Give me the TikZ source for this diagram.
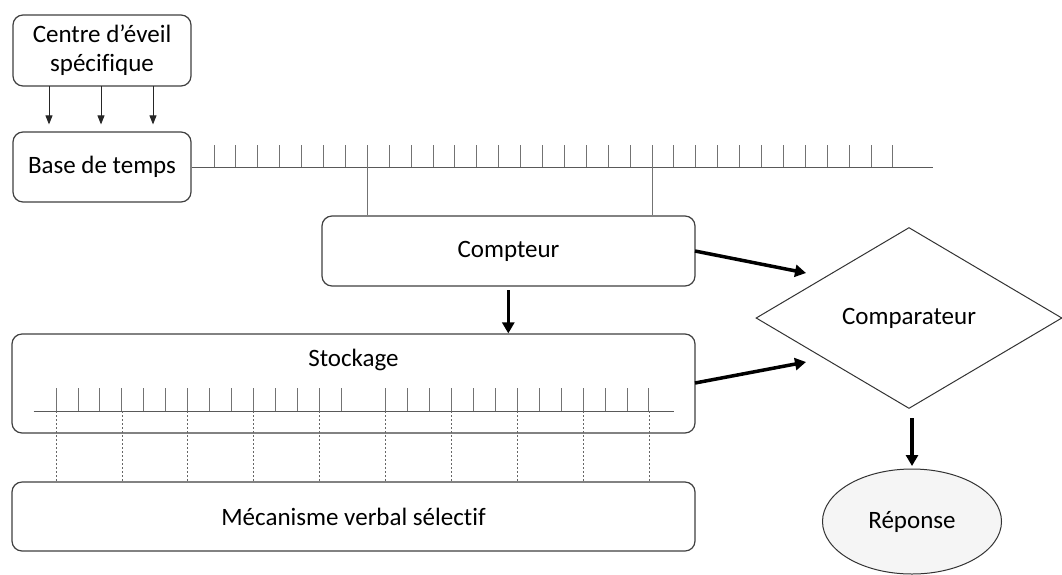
\documentclass[tikz,border=0pt]{standalone}
\usepackage{fontspec}
\setmainfont{Carlito}[Ligatures={NoCommon}]
\usetikzlibrary{shapes.geometric,arrows.meta}
\begin{document}
\begin{tikzpicture}[x=1pt,y=-1pt,
  every node/.style={font=\fontsize{25}{29}\selectfont, text=black},
  rbox/.style={draw=black!75, line width=1.2pt, rounded corners=10pt, inner sep=0pt},
  tick/.style={draw=black!55, line width=0.9pt},
  axis/.style={draw=black!65, line width=1pt},
  thinarrow/.style={draw=black!85, line width=0.9pt, -{Triangle[width=7pt,length=9pt]}},
  bigarrow/.style={draw=black, line width=3.5pt, -{Triangle[width=12pt,length=11pt]}},
  dashline/.style={draw=black!60, line width=0.6pt, dash pattern=on 2pt off 2pt}]
\useasboundingbox (0,0) rectangle (1062,574);
\fill[white] (0,0) rectangle (1062,574);

% boxes
\node[rbox, minimum width=178pt, minimum height=71pt, align=center] (centre) at (102,50.5) {Centre d’éveil\\spécifique};
\node[rbox, minimum width=178pt, minimum height=70pt] (base) at (102,167) {Base de temps};
\node[rbox, minimum width=373pt, minimum height=70pt] (compteur) at (508.5,251) {Compteur};
\node[rbox, minimum width=683pt, minimum height=99pt] (stockage) at (353.5,383.5) {};
\node (stocktxt) at (353.5,360) {Stockage};
\node[rbox, minimum width=683pt, minimum height=69pt] (meca) at (353.5,516.5) {Mécanisme verbal sélectif};
\node[diamond, draw=black!80, line width=1pt, inner sep=0pt, minimum width=306pt, minimum height=181pt] (comp) at (909,318) {Comparateur};
\node[ellipse, draw=black!80, fill=black!4, line width=1pt, inner sep=0pt, minimum width=179pt, minimum height=105pt] (rep) at (912,521.5) {Réponse};

% arrows from centre to base
\foreach \x/\n in {49/a,101/b,153/c}{
  \coordinate (ca\n) at (\x,86);
  \draw[thinarrow, shorten >=7pt] (ca\n) -- (ca\n |- base.north);
}

% time axis
\coordinate (axend) at (933,167);
\draw[axis] (base.east) -- (axend);
\foreach \k in {0,...,31}{
  \pgfmathsetmacro{\tx}{214+21.9*\k}
  \draw[tick] (\tx,145) -- (\tx,167);
}
\coordinate (t7) at (367.3,167);
\coordinate (t20) at (652,167);
\draw[tick] (t7) -- (t7 |- compteur.north);
\draw[tick] (t20) -- (t20 |- compteur.north);

% storage axis
\coordinate (sa) at (33.5,411);
\coordinate (sb) at (674,411);
\draw[axis] (sa) -- (sb);
\foreach \k in {0,...,27}{
  \ifnum\k=14\relax\else
  \pgfmathsetmacro{\sx}{56+21.96*\k}
  \draw[tick] (\sx,388) -- (\sx,411);
  \fi
}
\foreach \k in {0,3,...,27}{
  \pgfmathsetmacro{\sx}{56+21.96*\k}
  \coordinate (d\k) at (\sx,411);
  \draw[dashline] (d\k) -- (d\k |- meca.north);
}

% thick arrows
\coordinate (c1) at (695,251);
\coordinate (c1t) at (806,273);
\draw[bigarrow] (c1) -- (c1t);
\coordinate (s1) at (695,383);
\coordinate (s1t) at (806,362);
\draw[bigarrow] (s1) -- (s1t);
\coordinate (cs) at (508.3,290);
\draw[bigarrow] (cs) -- (cs |- stockage.north);
\coordinate (cr) at (912,418);
\coordinate (crt) at (912,466);
\draw[bigarrow] (cr) -- (crt);
\end{tikzpicture}
\end{document}
